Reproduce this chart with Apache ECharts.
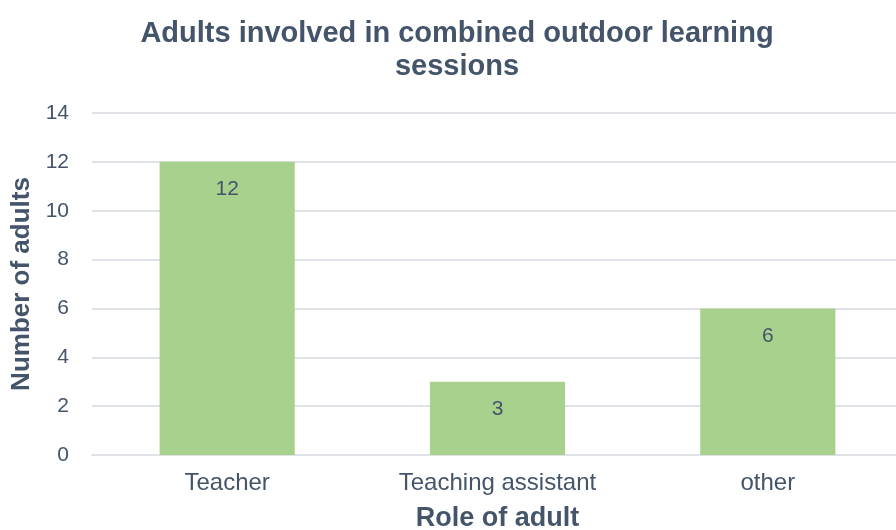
<!DOCTYPE html>
<html>
<head>
<meta charset="utf-8">
<script src="https://cdn.jsdelivr.net/npm/echarts@6/dist/echarts.min.js"></script>
<style>
    html, body { margin: 0; padding: 0; background: #fff; }
    #chart { width: 896px; height: 530px; }
</style>
</head>
<body>
<div id="chart"></div>
<script>
    // chart data
    var roles = ['Teacher', 'Teaching assistant', 'other'];
    var adults = [12, 3, 6];
    var yTicks = [0, 2, 4, 6, 8, 10, 12, 14];

    var textColor = '#44546a',
        gridColor = '#dfe3e8',
        barColor = '#a9d18e',
        font = '"Liberation Sans", Arial, sans-serif';

    var myChart = echarts.init(document.getElementById('chart'));

    var option = {
        animation: false,
        title: {
            text: 'Adults involved in combined outdoor learning\nsessions',
            left: 452,
            top: 12,
            textAlign: 'center',
            textStyle: {
                color: textColor,
                fontFamily: font,
                fontWeight: 'bold',
                fontSize: 29,
                lineHeight: 33
            }
        },
        grid: {
            left: 92,
            right: -7,
            top: 113,
            bottom: 75,
            outerBoundsMode: 'none'
        },
        xAxis: {
            type: 'category',
            data: roles,
            name: 'Role of adult',
            nameLocation: 'middle',
            nameGap: 50,
            nameTextStyle: {
                color: textColor,
                fontFamily: font,
                fontWeight: 'bold',
                fontSize: 27
            },
            axisTick: { show: false },
            axisLine: { lineStyle: { color: gridColor, width: 2 } },
            axisLabel: {
                color: textColor,
                fontFamily: font,
                fontSize: 24,
                margin: 16
            }
        },
        yAxis: {
            type: 'value',
            min: yTicks[0],
            max: yTicks[yTicks.length - 1],
            interval: 2,
            name: 'Number of adults',
            nameLocation: 'middle',
            nameGap: 56,
            nameTextStyle: {
                color: textColor,
                fontFamily: font,
                fontWeight: 'bold',
                fontSize: 26
            },
            axisLine: { show: false },
            axisTick: { show: false },
            axisLabel: {
                color: textColor,
                fontFamily: font,
                fontSize: 21,
                margin: 23
            },
            splitLine: { lineStyle: { color: gridColor, width: 2 } }
        },
        series: [{
            type: 'bar',
            data: adults,
            barWidth: '50%',
            itemStyle: { color: barColor },
            label: {
                show: true,
                position: 'insideTop',
                distance: 17,
                color: textColor,
                fontFamily: font,
                fontSize: 21
            }
        }]
    };

    myChart.setOption(option);
</script>
</body>
</html>
